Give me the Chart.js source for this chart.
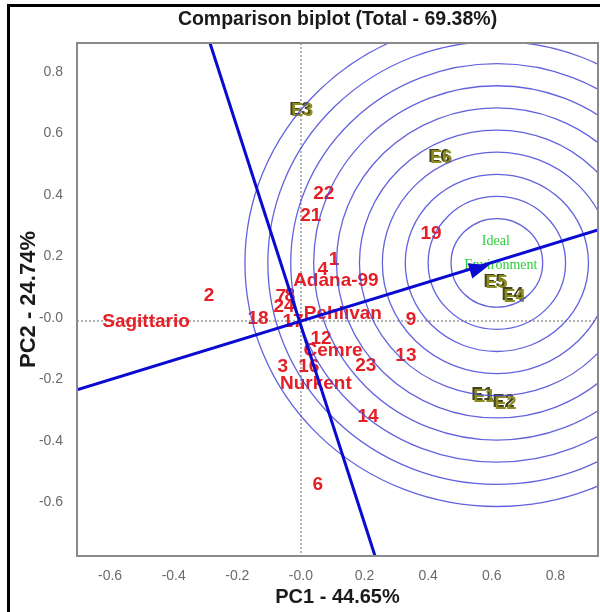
<!DOCTYPE html>
<html>
<head>
<meta charset="utf-8">
<script src="https://cdn.jsdelivr.net/npm/chart.js@4.4.0/dist/chart.umd.min.js"></script>
<style>
  html, body { margin: 0; padding: 0; background: #fff; }
</style>
</head>
<body>
<canvas id="myChart" width="600" height="612"></canvas>
<script>
// genotypes (red labels)
var genoNames = ["Sagittario", "2", "18", "7", "8", "24", "17", "Pehlivan", "Adana-99", "4", "1", "22",
  "21", "19", "9", "12", "Cemre", "13", "23", "3", "16", "Nurkent", "14", "6"];
var genoX = [-0.487, -0.289, -0.135, -0.063, -0.035, -0.053, -0.025, 0.132, 0.110, 0.069, 0.104, 0.072,
  0.031, 0.409, 0.346, 0.063, 0.101, 0.330, 0.204, -0.057, 0.025, 0.047, 0.211, 0.053];
var genoY = [-0.003, 0.081, 0.007, 0.078, 0.081, 0.046, -0.003, 0.023, 0.130, 0.166, 0.198, 0.413,
  0.341, 0.283, 0.003, -0.059, -0.098, -0.114, -0.146, -0.150, -0.150, -0.205, -0.312, -0.533];

// environments (olive labels)
var envNames = ["E3", "E6", "E5", "E4", "E1", "E2"];
var envX = [0.003, 0.440, 0.613, 0.670, 0.575, 0.642];
var envY = [0.683, 0.530, 0.124, 0.081, -0.244, -0.267];

// ideal environment + concentric circles around it
var idealX = 0.616;
var idealY = 0.189;
var ringRadius = [0.144, 0.216, 0.288, 0.360, 0.432, 0.504, 0.576, 0.648, 0.720, 0.792];

// average environment axis and its perpendicular
var aeaX = [-0.704, 0.934];
var aeaY = [-0.224, 0.296];
var perpX = [-0.286, 0.233];
var perpY = [0.904, -0.764];

// ticks
var xTicks = [-0.6, -0.4, -0.2, 0, 0.2, 0.4, 0.6, 0.8];
var xTickLabels = ["-0.6", "-0.4", "-0.2", "-0.0", "0.2", "0.4", "0.6", "0.8"];
var yTicks = [-0.6, -0.4, -0.2, 0, 0.2, 0.4, 0.6, 0.8];
var yTickLabels = ["-0.6", "-0.4", "-0.2", "-0.0", "0.2", "0.4", "0.6", "0.8"];

function toPoints(xs, ys) {
  return xs.map(function (x, i) { return { x: x, y: ys[i] }; });
}

var biplotDecor = {
  id: "biplotDecor",
  beforeDraw: function (chart) {
    var ctx = chart.ctx;
    ctx.save();
    ctx.fillStyle = "#fff";
    ctx.fillRect(0, 0, chart.width, chart.height);
    // black frame (left + top)
    ctx.fillStyle = "#000";
    ctx.fillRect(7, 4, 3, chart.height - 4);
    ctx.fillRect(7, 4, chart.width - 7, 3);
    ctx.restore();
  },
  beforeDatasetsDraw: function (chart) {
    var ctx = chart.ctx, a = chart.chartArea;
    var xs = chart.scales.x, ys = chart.scales.y;
    ctx.save();
    ctx.beginPath();
    ctx.rect(a.left, a.top, a.width, a.height);
    ctx.clip();

    // dotted zero lines
    ctx.strokeStyle = "#9a9a9a";
    ctx.lineWidth = 1.5;
    ctx.setLineDash([2, 2]);
    var x0 = xs.getPixelForValue(0), y0 = ys.getPixelForValue(0);
    ctx.beginPath();
    ctx.moveTo(x0, a.top); ctx.lineTo(x0, a.bottom);
    ctx.moveTo(a.left, y0); ctx.lineTo(a.right, y0);
    ctx.stroke();
    ctx.setLineDash([]);

    // genotype labels
    ctx.font = "bold 19px Arial, 'Liberation Sans', sans-serif";
    ctx.textAlign = "center";
    ctx.textBaseline = "middle";
    ctx.fillStyle = "#e41f26";
    chart.getDatasetMeta(2).data.forEach(function (pt, i) {
      ctx.fillText(genoNames[i], pt.x, pt.y);
    });

    // environment labels (shadowed olive)
    ctx.font = "bold 18px Arial, 'Liberation Sans', sans-serif";
    chart.getDatasetMeta(3).data.forEach(function (pt, i) {
      ctx.fillStyle = "#44441a";
      ctx.fillText(envNames[i], pt.x - 1.5, pt.y - 1);
      ctx.fillStyle = "#8c8c22";
      ctx.fillText(envNames[i], pt.x + 0.5, pt.y + 0.5);
    });

    // concentric circles
    var cx = xs.getPixelForValue(idealX), cy = ys.getPixelForValue(idealY);
    ctx.strokeStyle = "rgba(70, 70, 215, 0.85)";
    ctx.lineWidth = 1.3;
    ringRadius.forEach(function (r) {
      var rx = xs.getPixelForValue(idealX + r) - cx;
      var ry = cy - ys.getPixelForValue(idealY + r);
      ctx.beginPath();
      ctx.ellipse(cx, cy, rx, ry, 0, 0, Math.PI * 2);
      ctx.stroke();
    });

    // ideal environment text
    ctx.font = "14px 'Liberation Serif', 'DejaVu Serif', serif";
    ctx.fillStyle = "#2ccf3a";
    ctx.fillText("Ideal", cx - 1, cy - 22);
    ctx.fillText("Environment", cx + 4, cy + 2);
    ctx.restore();
  },
  afterDatasetsDraw: function (chart) {
    var ctx = chart.ctx;
    var xs = chart.scales.x, ys = chart.scales.y;
    // arrow head at the ideal environment
    var tx = xs.getPixelForValue(idealX), ty = ys.getPixelForValue(idealY);
    var ox = xs.getPixelForValue(0), oy = ys.getPixelForValue(0);
    var ang = Math.atan2(ty - oy, tx - ox);
    var tipX = tx - 8 * Math.cos(ang), tipY = ty - 8 * Math.sin(ang);
    ctx.save();
    ctx.fillStyle = "#0a0ad0";
    ctx.translate(tipX, tipY);
    ctx.rotate(ang);
    ctx.beginPath();
    ctx.moveTo(0, 0);
    ctx.lineTo(-20, -8);
    ctx.lineTo(-20, 8);
    ctx.closePath();
    ctx.fill();
    ctx.restore();
  },
  afterDraw: function (chart) {
    var ctx = chart.ctx, a = chart.chartArea;
    ctx.save();
    ctx.strokeStyle = "#8a8a8a";
    ctx.lineWidth = 2;
    ctx.strokeRect(a.left, a.top, a.width, a.height);
    ctx.restore();
  }
};

var ctx = document.getElementById("myChart").getContext("2d");
var myChart = new Chart(ctx, {
  type: "scatter",
  data: {
    datasets: [
      {
        label: "AEA",
        type: "line",
        data: toPoints(aeaX, aeaY),
        borderColor: "#0a0ad0",
        borderWidth: 3,
        pointRadius: 0,
        fill: false
      },
      {
        label: "AEA perpendicular",
        type: "line",
        data: toPoints(perpX, perpY),
        borderColor: "#0a0ad0",
        borderWidth: 3,
        pointRadius: 0,
        fill: false
      },
      {
        label: "Genotypes",
        data: toPoints(genoX, genoY),
        pointRadius: 0
      },
      {
        label: "Environments",
        data: toPoints(envX, envY),
        pointRadius: 0
      }
    ]
  },
  options: {
    responsive: false,
    animation: false,
    devicePixelRatio: 1,
    layout: { padding: { left: 10, right: 2, top: 0, bottom: 0 } },
    plugins: {
      legend: { display: false },
      tooltip: { enabled: false },
      title: {
        display: true,
        fullSize: false,
        text: "Comparison biplot (Total - 69.38%)",
        color: "#1a1a1a",
        font: { family: "Arial, 'Liberation Sans', sans-serif", size: 19.5, weight: "bold" },
        padding: { top: 8.3, bottom: 11.3 }
      }
    },
    scales: {
      x: {
        type: "linear",
        min: -0.704,
        max: 0.934,
        grid: { display: false },
        border: { display: false },
        afterFit: function (scale) { scale.height = 56; },
        afterBuildTicks: function (scale) {
          scale.ticks = xTicks.map(function (v) { return { value: v }; });
        },
        ticks: {
          padding: 4,
          color: "#6a6a6a",
          font: { family: "Arial, 'Liberation Sans', sans-serif", size: 14 },
          callback: function (v, i) { return xTickLabels[i]; }
        },
        title: {
          display: true,
          text: "PC1 - 44.65%",
          color: "#1a1a1a",
          font: { family: "Arial, 'Liberation Sans', sans-serif", size: 20, weight: "bold" },
          padding: { top: 0, bottom: 3 }
        }
      },
      y: {
        type: "linear",
        min: -0.764,
        max: 0.904,
        grid: { display: false },
        border: { display: false },
        afterFit: function (scale) { scale.width = 67; },
        afterBuildTicks: function (scale) {
          scale.ticks = yTicks.map(function (v) { return { value: v }; });
        },
        ticks: {
          padding: 6,
          labelOffset: -3,
          color: "#6a6a6a",
          font: { family: "Arial, 'Liberation Sans', sans-serif", size: 14 },
          callback: function (v, i) { return yTickLabels[i]; }
        },
        title: {
          display: true,
          text: "PC2 - 24.74%",
          color: "#1a1a1a",
          font: { family: "Arial, 'Liberation Sans', sans-serif", size: 22, weight: "bold" },
          padding: { top: 6, bottom: 0 }
        }
      }
    }
  },
  plugins: [biplotDecor]
});
</script>
</body>
</html>
